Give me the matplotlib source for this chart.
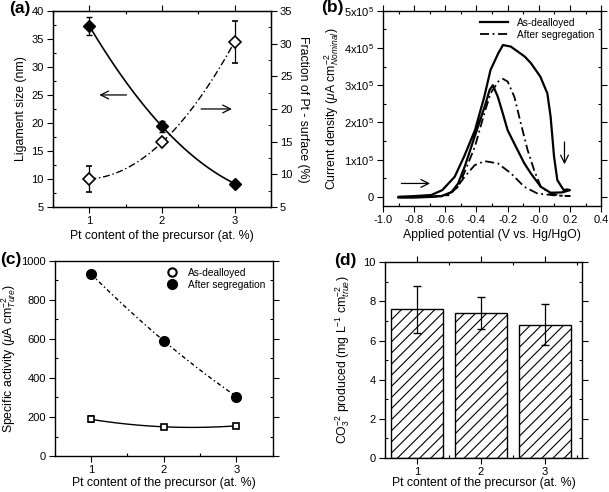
import matplotlib
matplotlib.use("Agg")
import matplotlib.pyplot as plt
import numpy as np
from matplotlib.lines import Line2D
from matplotlib.ticker import AutoMinorLocator, FuncFormatter

plt.rcParams["font.family"] = ["Liberation Sans", "DejaVu Sans"]
plt.rcParams["mathtext.fontset"] = "custom"
plt.rcParams["mathtext.rm"] = "Liberation Sans"
plt.rcParams["mathtext.it"] = "Liberation Sans:italic"
plt.rcParams["hatch.linewidth"] = 0.8

TICK_FS = 8
LABEL_FS = 8.8
PANEL_FS = 12.5

# ── Data ─────────────────────────────────────────────────────────────────────
pt_content = [1, 2, 3]

# (a)
ligament = [37.3, 19.4, 9.2]
ligament_err = [1.6, 1.0, 0.5]
pt_fraction = [9.3, 14.9, 30.3]
pt_fraction_err = [2.0, 0.0, 3.2]

# (b) cyclic voltammograms, forward + reverse scan (units of 1e5)
dealloyed_v = [-0.9, -0.8, -0.69, -0.62, -0.54, -0.48, -0.41, -0.35, -0.31, -0.26,
               -0.23, -0.18, -0.09, -0.05, 0.01, 0.055, 0.076, 0.098, 0.119, 0.16,
               0.183, 0.2, 0.15, 0.076, 0.013, -0.051, -0.093, -0.157, -0.2, -0.231,
               -0.263, -0.295, -0.316, -0.348, -0.391, -0.433, -0.476, -0.518, -0.56,
               -0.624, -0.688, -0.8, -0.9]
dealloyed_j = [0.0, 0.02, 0.05, 0.18, 0.54, 1.08, 1.79, 2.69, 3.41, 3.86,
               4.08, 4.04, 3.77, 3.59, 3.23, 2.78, 2.15, 1.08, 0.45, 0.18,
               0.2, 0.18, 0.12, 0.11, 0.27, 0.63, 0.90, 1.43, 1.79, 2.24,
               2.69, 3.0, 2.87, 2.42, 1.88, 1.35, 0.81, 0.36, 0.13,
               0.02, 0.0, -0.02, -0.02]
segregated_v = [-0.9, -0.7, -0.58, -0.52, -0.48, -0.41, -0.35, -0.31, -0.26, -0.23,
                -0.2, -0.157, -0.115, -0.072, -0.03, 0.013, 0.076, 0.16, 0.2,
                0.1, -0.009, -0.093, -0.178, -0.263, -0.348, -0.412, -0.476, -0.539,
                -0.603, -0.7, -0.9]
segregated_j = [0.0, 0.01, 0.04, 0.27, 0.63, 1.35, 2.24, 2.78, 3.1, 3.17,
                3.1, 2.69, 1.97, 1.26, 0.72, 0.27, 0.09, 0.02, 0.02,
                0.04, 0.09, 0.27, 0.63, 0.90, 0.96, 0.85, 0.54, 0.18,
                0.02, 0.0, 0.0]

# (c)
act_dealloyed = [188, 150, 155]
act_dealloyed_err = [15, 10, 8]
act_segregated = [932, 590, 305]

# (d)
carbonate = [7.6, 7.4, 6.8]
carbonate_err = [1.2, 0.8, 1.05]


def style_axis(ax, right=True, top=True):
    ax.xaxis.set_minor_locator(AutoMinorLocator(2))
    ax.yaxis.set_minor_locator(AutoMinorLocator(2))
    ax.tick_params(which="major", direction="out", length=4, width=0.8,
                   labelsize=TICK_FS, top=top, right=right, pad=2.5)
    ax.tick_params(which="minor", direction="in", length=2.5, width=0.8,
                   top=top, right=right)
    for s in ax.spines.values():
        s.set_linewidth(1.0)


def fit_curve(x, y):
    coef = np.polyfit(x, y, 2)
    xs = np.linspace(min(x), max(x), 100)
    return xs, np.polyval(coef, xs)


fig = plt.figure(figsize=(6.09, 4.92), dpi=100)

# ── (a) ──────────────────────────────────────────────────────────────────────
ax_a = fig.add_axes([0.087, 0.579, 0.358, 0.399])
ax_a2 = ax_a.twinx()
xs, ys = fit_curve(pt_content, ligament)
ax_a.plot(xs, ys, color="black", lw=1.2)
ax_a.errorbar(pt_content, ligament, yerr=ligament_err, fmt="D", color="black",
              ms=6, capsize=2.5, elinewidth=0.9)
xs, ys = fit_curve(pt_content, pt_fraction)
ax_a2.plot(xs, ys, color="black", lw=1.0, ls=(0, (5, 2, 1, 2)))
ax_a2.errorbar(pt_content, pt_fraction, yerr=pt_fraction_err, fmt="D",
               color="black", mfc="white", ms=6, mew=1.2, capsize=2.5,
               elinewidth=0.9)
ax_a.set_xlim(0.5, 3.5)
ax_a.set_ylim(5, 40)
ax_a2.set_ylim(5, 35)
ax_a.set_xticks(pt_content)
ax_a.set_yticks(range(5, 41, 5))
ax_a2.set_yticks(range(5, 36, 5))
style_axis(ax_a, right=False)
ax_a.tick_params(which="both", right=False)
ax_a2.yaxis.set_minor_locator(AutoMinorLocator(2))
ax_a2.tick_params(which="major", direction="out", length=4, labelsize=TICK_FS,
                  pad=2.5)
ax_a2.tick_params(which="minor", direction="in", length=2.5)
ax_a.set_xlabel("Pt content of the precursor (at. %)", fontsize=LABEL_FS,
                labelpad=3)
ax_a.set_ylabel("Ligament size (nm)", fontsize=LABEL_FS, labelpad=3)
ax_a2.set_ylabel("Fraction of Pt - surface (%)", fontsize=LABEL_FS,
                 rotation=270, labelpad=12)
ax_a.annotate("", xy=(1.1, 25), xytext=(1.55, 25),
              arrowprops=dict(arrowstyle="->", lw=0.9, mutation_scale=14))
ax_a2.annotate("", xy=(3.0, 20), xytext=(2.5, 20),
               arrowprops=dict(arrowstyle="->", lw=0.9, mutation_scale=14))
fig.text(0.015, 0.997, "(a)", fontsize=PANEL_FS, fontweight="bold", va="top")

# ── (b) ──────────────────────────────────────────────────────────────────────
ax_b = fig.add_axes([0.629, 0.581, 0.358, 0.397])
ax_b.plot(dealloyed_v, np.array(dealloyed_j) * 1e5, color="black", lw=1.6,
          label="As-dealloyed")
ax_b.plot(segregated_v, np.array(segregated_j) * 1e5, color="black", lw=1.3,
          ls=(0, (5, 2, 1, 2)), label="After segregation")
ax_b.set_xlim(-1.0, 0.4)
ax_b.set_ylim(-0.25e5, 5e5)
ax_b.set_xticks(np.arange(-1.0, 0.41, 0.2))
ax_b.xaxis.set_major_formatter(FuncFormatter(lambda v, p: f"{v:.1f}"))
ax_b.set_yticks(np.arange(0, 5.1e5, 1e5))
ax_b.yaxis.set_major_formatter(FuncFormatter(
    lambda v, p: "0" if abs(v) < 1 else f"{int(round(v / 1e5))}x10$^5$"))
style_axis(ax_b)
ax_b.set_xlabel("Applied potential (V vs. Hg/HgO)", fontsize=LABEL_FS,
                labelpad=3)
ax_b.set_ylabel(r"Current density ($\mu$A cm$^{-2}_{Nominal}$)",
                fontsize=LABEL_FS, labelpad=2)
ax_b.legend(loc="upper right", fontsize=7.3, frameon=False, handlelength=2.8,
            borderaxespad=0.3, labelspacing=0.2)
ax_b.annotate("", xy=(-0.68, 0.36e5), xytext=(-0.9, 0.36e5),
              arrowprops=dict(arrowstyle="->", lw=0.9, mutation_scale=14))
ax_b.annotate("", xy=(0.165, 0.8e5), xytext=(0.165, 1.55e5),
              arrowprops=dict(arrowstyle="->", lw=0.9, mutation_scale=14))
fig.text(0.528, 1.0, "(b)", fontsize=PANEL_FS, fontweight="bold", va="top")

# ── (c) ──────────────────────────────────────────────────────────────────────
ax_c = fig.add_axes([0.090, 0.073, 0.358, 0.397])
xs, ys = fit_curve(pt_content, act_segregated)
ax_c.plot(xs, ys, color="black", lw=1.0, ls=(0, (3, 2, 1, 2)))
ax_c.plot(pt_content, act_segregated, "o", color="black", ms=7)
xs, ys = fit_curve(pt_content, act_dealloyed)
ax_c.plot(xs, ys, color="black", lw=1.0)
ax_c.errorbar(pt_content, act_dealloyed, yerr=act_dealloyed_err, fmt="s",
              color="black", mfc="white", ms=5, capsize=2.5, elinewidth=0.9,
              mew=1.2)
ax_c.set_xlim(0.5, 3.5)
ax_c.set_ylim(0, 1000)
ax_c.set_xticks(pt_content)
ax_c.set_yticks(range(0, 1001, 200))
style_axis(ax_c, top=False)
ax_c.set_xlabel("Pt content of the precursor (at. %)", fontsize=LABEL_FS,
                labelpad=1)
ax_c.set_ylabel(r"Specific activity ($\mu$A cm$^{-2}_{Ture}$)",
                fontsize=LABEL_FS, labelpad=2)
handles = [Line2D([], [], ls="none", marker="o", color="black", mfc="white",
                  mew=1.5, ms=6),
           Line2D([], [], ls="none", marker="o", color="black", ms=7)]
ax_c.legend(handles, ["As-dealloyed", "After segregation"], loc="upper right",
            fontsize=7.3, frameon=False, handletextpad=0.6, labelspacing=0.2,
            borderaxespad=0.3)
fig.text(0.0, 0.488, "(c)", fontsize=PANEL_FS, fontweight="bold", va="top")

# ── (d) ──────────────────────────────────────────────────────────────────────
ax_d = fig.add_axes([0.632, 0.069, 0.324, 0.398])
ax_d.bar(pt_content, carbonate, width=0.8, color="white", edgecolor="black",
         hatch="///", lw=1.0)
ax_d.errorbar(pt_content, carbonate, yerr=carbonate_err, fmt="none",
              ecolor="black", capsize=3, elinewidth=0.9)
ax_d.set_xlim(0.5, 3.58)
ax_d.set_ylim(0, 10)
ax_d.set_xticks(pt_content)
ax_d.set_yticks(range(0, 11, 2))
style_axis(ax_d)
ax_d.set_xlabel("Pt content of the precursor (at. %)", fontsize=LABEL_FS,
                labelpad=0)
ax_d.set_ylabel(r"CO$_3^{-2}$ produced (mg L$^{-1}$ cm$^{-2}_{true}$)",
                fontsize=LABEL_FS, labelpad=8)
fig.text(0.548, 0.485, "(d)", fontsize=PANEL_FS, fontweight="bold", va="top")

fig.savefig("out.png", dpi=100)
